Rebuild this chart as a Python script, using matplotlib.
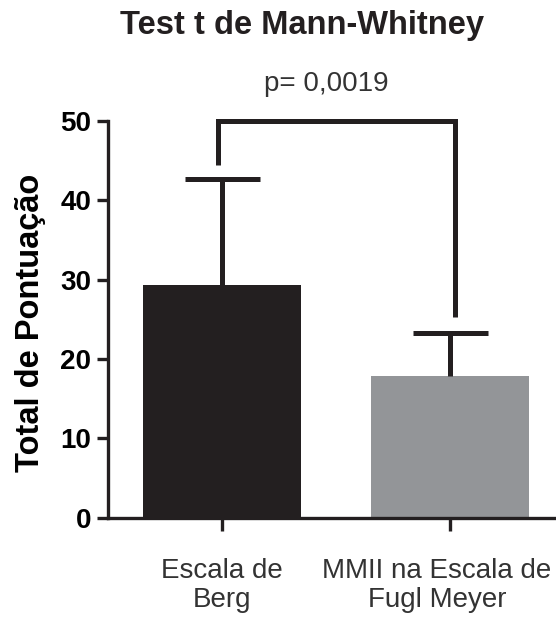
import matplotlib
matplotlib.use("Agg")
from matplotlib import pyplot as plt
from matplotlib.transforms import ScaledTranslation

categories = ["Escala de\nBerg", "MMII na Escala de\nFugl Meyer"]
means = [29.3, 17.8]
upper_err = [13.4, 5.5]
bar_colors = ["#231f20", "#939598"]
p_text = "p= 0,0019"
bracket_x = [-0.015, -0.015, 1.022, 1.022]
bracket_y = [44.4, 50, 50, 25.3]

plt.rcParams['font.family'] = ['Liberation Sans', 'DejaVu Sans']

fig = plt.figure(figsize=(5.56, 6.17), dpi=100)
ax = fig.add_axes([0.194, 0.161, 0.806, 0.643])

x = range(len(categories))
ax.bar(x, means, width=0.69, color=bar_colors, zorder=2)
eb = ax.errorbar(x, means, yerr=[[0, 0], upper_err], fmt='none', ecolor='#231f20',
                 elinewidth=3.6, capsize=27, capthick=3.6, zorder=3)
# only the upper cap is shown
eb[1][0].set_visible(False)

ax.plot(bracket_x, bracket_y, color='#231f20', lw=3.6, clip_on=False,
        solid_capstyle='butt', solid_joinstyle='miter', zorder=3)
ax.text(0.46, 54.7, p_text, ha='center', va='center', fontsize=20, color='#333333')

ax.set_xlim(-0.5, 1.465)
ax.set_ylim(0, 50)
ax.set_yticks([0, 10, 20, 30, 40, 50])
ax.set_xticks(list(x))
ax.set_xticklabels(categories, fontsize=20, color='#333333', linespacing=1.15)
for lbl in ax.get_yticklabels():
    lbl.set_fontsize(20)
    lbl.set_fontweight('bold')
ax.tick_params(axis='y', length=8, width=2.4, color='#231f20', pad=4)
ax.tick_params(axis='x', length=9, width=2.4, color='#231f20', pad=20)

# second label sits a bit left of its tick so it stays inside the figure
lbl = ax.get_xticklabels()[1]
lbl.set_transform(lbl.get_transform() + ScaledTranslation(-0.13, 0, fig.dpi_scale_trans))

for side in ['top', 'right']:
    ax.spines[side].set_visible(False)
for side in ['left', 'bottom']:
    ax.spines[side].set_linewidth(2.4)
    ax.spines[side].set_color('#231f20')

ax.set_ylabel("Total de Pontuação", fontsize=23.5, fontweight='bold')
ax.yaxis.label.set_va('center')
ax.yaxis.set_label_coords(-0.172, 0.49)
fig.text(0.543, 0.959, "Test t de Mann-Whitney", ha='center', va='center',
         fontsize=23.5, fontweight='bold', color='#231f20')

fig.savefig("out.png", dpi=100)
